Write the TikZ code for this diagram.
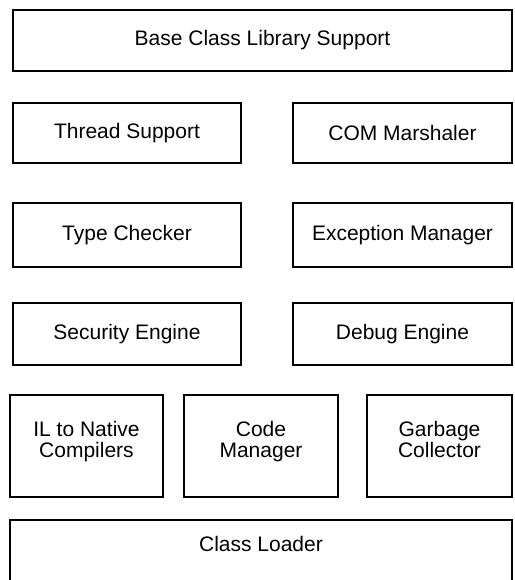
\documentclass[tikz,border=0pt]{standalone}
\usepackage{fontspec}
\setmainfont{Liberation Sans}
\tikzset{
  blk/.style={draw, line width=1.3pt, inner sep=0pt, align=center,
    font=\fontsize{21}{21}\selectfont},
  twoline/.style={text height=38pt, text depth=15pt},
}
\begin{document}
\begin{tikzpicture}[x=1pt, y=-1pt]
      \useasboundingbox (0,0) rectangle (514,580);

      \node[blk, minimum width=499, minimum height=61] (A) at (262.5,40.5) {Base Class Library Support};

      \node[blk, minimum width=228, minimum height=60] (B) at (127,133) {Thread Support};
      \node[blk, minimum width=219, minimum height=60] (C) at (402.5,133) {COM Marshaler};

      \node[blk, minimum width=228, minimum height=64] (D) at (127,235) {Type Checker};
      \node[blk, minimum width=219, minimum height=64] (E) at (402.5,235) {Exception Manager};

      \node[blk, minimum width=228, minimum height=62] (F) at (127,334) {Security Engine};
      \node[blk, minimum width=219, minimum height=62] (G) at (402.5,334) {Debug Engine};

      \node[blk, twoline, minimum width=153, minimum height=102] (H) at (86.5,446) {IL to Native\\Compilers};
      \node[blk, twoline, minimum width=154, minimum height=102] (I) at (261,446) {Code\\Manager};
      \node[blk, twoline, minimum width=145, minimum height=102] (J) at (439.5,446) {Garbage\\Collector};

      \node[blk, minimum width=502, minimum height=64, text height=15pt, text depth=16pt] (K) at (261,552) {Class Loader};
    \end{tikzpicture}
\end{document}
